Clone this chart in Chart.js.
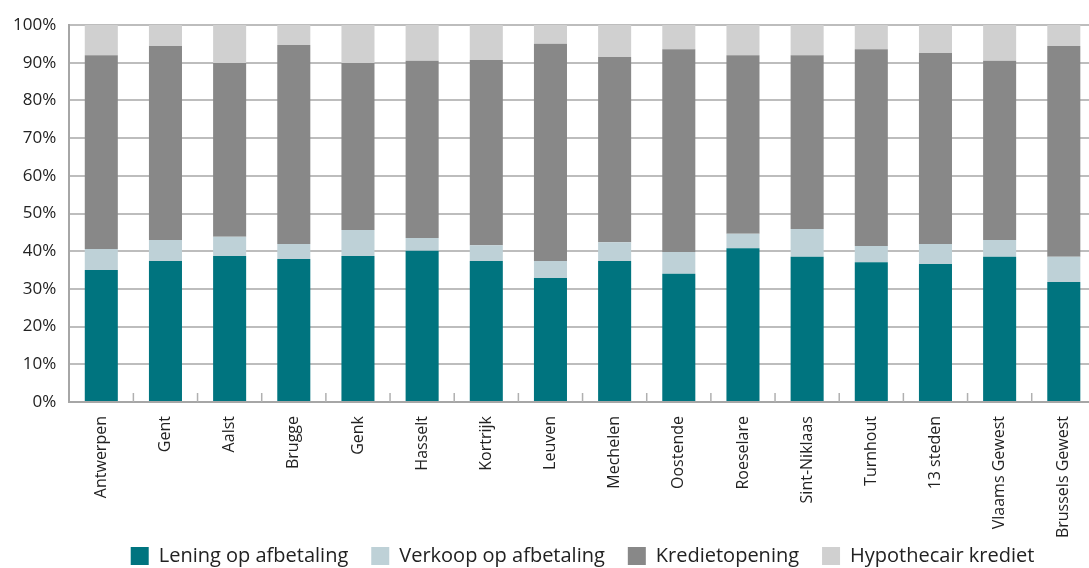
<!DOCTYPE html>
<html>
<head>
<meta charset="utf-8">
<script src="https://cdn.jsdelivr.net/npm/chart.js@4"></script>
<style>
  html, body { margin: 0; padding: 0; background: #fff; overflow: hidden; }
  #wrap { width: 1097px; height: 568px; }
</style>
</head>
<body>
<div id="wrap"><canvas id="c" width="1097" height="568"></canvas></div>
<script>
const categories = ["Antwerpen", "Gent", "Aalst", "Brugge", "Genk", "Hasselt", "Kortrijk", "Leuven", "Mechelen", "Oostende", "Roeselare", "Sint-Niklaas", "Turnhout", "13 steden", "Vlaams Gewest", "Brussels Gewest"];
const leningOpAfbetaling = [35.0, 37.4, 38.7, 37.9, 38.7, 40.1, 37.4, 32.9, 37.4, 34.0, 40.8, 38.5, 37.1, 36.6, 38.5, 31.8];
const verkoopOpAfbetaling = [5.6, 5.6, 5.1, 4.0, 6.9, 3.4, 4.2, 4.5, 5.0, 5.8, 3.8, 7.4, 4.3, 5.3, 4.5, 6.7];
const kredietopening = [51.4, 51.4, 46.1, 52.8, 44.3, 47.0, 49.1, 57.6, 49.1, 53.8, 47.4, 46.1, 52.2, 50.7, 47.5, 55.9];
const hypothecairKrediet = [8.0, 5.6, 10.1, 5.3, 10.1, 9.5, 9.3, 5.0, 8.5, 6.4, 8.0, 8.0, 6.4, 7.4, 9.5, 5.6];
const seriesNames = ["Lening op afbetaling", "Verkoop op afbetaling", "Kredietopening", "Hypothecair krediet"];
const yTicks = [0, 10, 20, 30, 40, 50, 60, 70, 80, 90, 100];

const FONT = "'Open Sans', 'Noto Sans', sans-serif";

const innerTicks = {
  id: 'innerTicks',
  afterDatasetsDraw(chart) {
    const x = chart.scales.x, y = chart.scales.y;
    const ctx = chart.ctx;
    const bottom = y.getPixelForValue(0);
    ctx.save();
    ctx.strokeStyle = '#b0b0b0';
    ctx.lineWidth = 1.5;
    for (let i = 1; i < categories.length; i++) {
      const px = (x.getPixelForValue(i - 1) + x.getPixelForValue(i)) / 2;
      ctx.beginPath();
      ctx.moveTo(px, bottom);
      ctx.lineTo(px, bottom - 9);
      ctx.stroke();
    }
    ctx.restore();
  }
};

const colors = ['#00747f', '#bed1d7', '#888888', '#d0d0d0'];
const values = [leningOpAfbetaling, verkoopOpAfbetaling, kredietopening, hypothecairKrediet];

new Chart(document.getElementById('c'), {
  type: 'bar',
  data: {
    labels: categories,
    datasets: seriesNames.map((n, i) => ({
      label: n,
      data: values[i],
      backgroundColor: colors[i],
      borderWidth: 0,
      categoryPercentage: 1,
      barPercentage: 0.515
    }))
  },
  options: {
    responsive: false,
    animation: false,
    devicePixelRatio: 1,
    layout: { padding: { top: 25, left: 0, right: 0, bottom: -8 } },
    plugins: {
      tooltip: { enabled: false },
      legend: {
        position: 'bottom',
        fullSize: false,
        labels: {
          boxWidth: 18,
          boxHeight: 18,
          padding: 23,
          color: '#222',
          font: { family: FONT, size: 20 }
        }
      }
    },
    scales: {
      x: {
        stacked: true,
        grid: { display: false, drawTicks: false },
        border: { color: '#a6a6a6', width: 2 },
        ticks: {
          color: '#222',
          font: { family: FONT, size: 16 },
          maxRotation: 90,
          minRotation: 90,
          padding: 14
        },
        afterFit(scale) {
          scale.height = 121;
          scale._computeLabelArea = () => undefined;
        }
      },
      y: {
        stacked: true,
        min: 0,
        max: 100,
        afterBuildTicks(scale) { scale.ticks = yTicks.map(v => ({ value: v })); },
        grid: { color: '#bdbdbd', lineWidth: 2, drawTicks: false },
        border: { color: '#a6a6a6', width: 2 },
        ticks: {
          color: '#222',
          font: { family: FONT, size: 17 },
          padding: 13,
          callback: v => v + '%'
        }
      }
    }
  },
  plugins: [innerTicks]
});
</script>
</body>
</html>
